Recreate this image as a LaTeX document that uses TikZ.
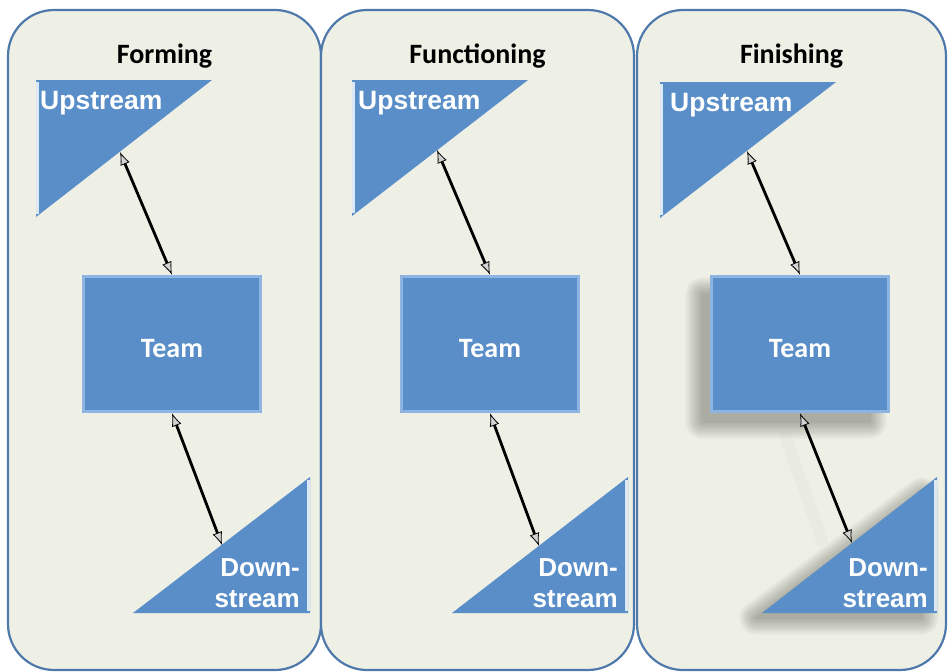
\documentclass[tikz,border=0pt]{standalone}
\usepackage{fontspec}
\setmainfont{Liberation Sans}
\newfontfamily\headfont{Carlito}
\usetikzlibrary{arrows.meta}

\definecolor{panelfill}{HTML}{EEF0E6}
\definecolor{panelline}{HTML}{4F79AA}
\definecolor{shapeblue}{HTML}{5A8EC8}
\definecolor{bevellight}{HTML}{8DB4E2}
\definecolor{edgewhite}{HTML}{DCE8F5}
\definecolor{shadowgrey}{HTML}{3A3A30}

\begin{document}
\begin{tikzpicture}[x=1pt, y=-1pt,
  panel/.style={draw=panelline, line width=2.2pt, fill=panelfill, rounded corners=46pt},
  heading/.style={anchor=base, inner sep=0pt, text=black,
    font=\headfont\bfseries\fontsize{28}{30}\selectfont},
  teambox/.style={rectangle, fill=shapeblue, minimum width=180pt, minimum height=138pt,
    inner sep=0pt, text=white, text height=27pt, text depth=0pt,
    font=\headfont\bfseries\fontsize{28}{30}\selectfont},
  wedge/.style={fill=shapeblue},
  uplabel/.style={anchor=base west, inner sep=0pt, text=white,
    font=\bfseries\fontsize{26.5}{30}\selectfont},
  downlabel/.style={anchor=base east, inner sep=0pt, align=right, text=white,
    font=\bfseries\fontsize{26}{31}\selectfont},
  frame/.style={draw=bevellight, line width=3pt},
  rim/.style={draw=edgewhite, line width=3pt},
  link/.style={line width=2.8pt, draw=black,
    {Latex[length=13pt,width=10pt,fill=gray!35,line width=0.8pt]}-{Latex[length=13pt,width=10pt,fill=gray!35,line width=0.8pt]}},
  shadowlayer/.style={fill=shadowgrey, draw=shadowgrey, line join=round},
]
% canvas
\fill[white] (0,0) rectangle (948,672);
\useasboundingbox (0,0) rectangle (948,672);

% the three phase panels
\draw[panel] (8,10) rectangle (321,670);
\draw[panel] (321,10) rectangle (634,670);
\draw[panel] (637,10) rectangle (946,670);

% ---------- Forming ----------
\node[heading] (h1) at (164.5,63) {Forming};
\fill[wedge] (36,80) -- (212,80) -- (36,217) -- cycle;
\draw[rim] (37.5,82) -- (37.5,214);
\node[uplabel] (up1) at (40,109) {Upstream};
\node[teambox] (team1) at (172,344) {Team};
\draw[frame] ([shift={(1.5,1.5)}]team1.north west) rectangle ([shift={(-1.5,-1.5)}]team1.south east);
\fill[wedge] (133,613) -- (310,613) -- (310,477) -- cycle;
\draw[rim] (308.5,480) -- (308.5,611);
\node[downlabel] (dn1) at (300,607) {Down-\\stream};
\coordinate (u1) at (120,152);
\coordinate (d1) at (222,545);
\draw[link] (u1) -- (team1.north);
\draw[link] (team1.south) -- (d1);

% ---------- Functioning ----------
\node[heading] (h2) at (477.5,63) {Functioning};
\fill[wedge] (352,80) -- (528,80) -- (352,216) -- cycle;
\draw[rim] (353.5,82) -- (353.5,213);
\node[uplabel] (up2) at (358,109) {Upstream};
\node[teambox] (team2) at (490,344) {Team};
\draw[frame] ([shift={(1.5,1.5)}]team2.north west) rectangle ([shift={(-1.5,-1.5)}]team2.south east);
\fill[wedge] (452,613) -- (628,613) -- (628,477) -- cycle;
\draw[rim] (626.5,480) -- (626.5,611);
\node[downlabel] (dn2) at (618,607) {Down-\\stream};
\coordinate (u2) at (437,150);
\coordinate (d2) at (539,546);
\draw[link] (u2) -- (team2.north);
\draw[link] (team2.south) -- (d2);

% ---------- Finishing (with soft drop shadows) ----------
% soft shadows: stacked, widening translucent layers
\foreach \k in {0,...,14}{
  \begin{scope}[transparency group, opacity=0.028]
    \filldraw[shadowlayer, line width={2.4*\k pt}] (702,294) rectangle (870,422);
  \end{scope}
  \begin{scope}[transparency group, opacity=0.028]
    \filldraw[shadowlayer, line width={2.4*\k pt}] (756,618) -- (922,618) -- (922,494) -- cycle;
  \end{scope}
}
\draw[gray, opacity=0.04, line width=12pt, line cap=round] (786,438) -- (822,540);

\node[heading] (h3) at (791.5,63) {Finishing};
\fill[wedge] (660,82) -- (836,82) -- (660,218) -- cycle;
\draw[rim] (661.5,84) -- (661.5,215);
\node[uplabel] (up3) at (670,111) {Upstream};
\node[teambox] (team3) at (800,344) {Team};
\draw[frame] ([shift={(1.5,1.5)}]team3.north west) rectangle ([shift={(-1.5,-1.5)}]team3.south east);
\fill[wedge] (762,613) -- (937,613) -- (937,477) -- cycle;
\draw[rim] (935.5,480) -- (935.5,611);
\node[downlabel] (dn3) at (928,607) {Down-\\stream};
\coordinate (u3) at (747,151);
\coordinate (d3) at (852,543);
\draw[link] (u3) -- (team3.north);
\draw[link] (team3.south) -- (d3);
\end{tikzpicture}
\end{document}
